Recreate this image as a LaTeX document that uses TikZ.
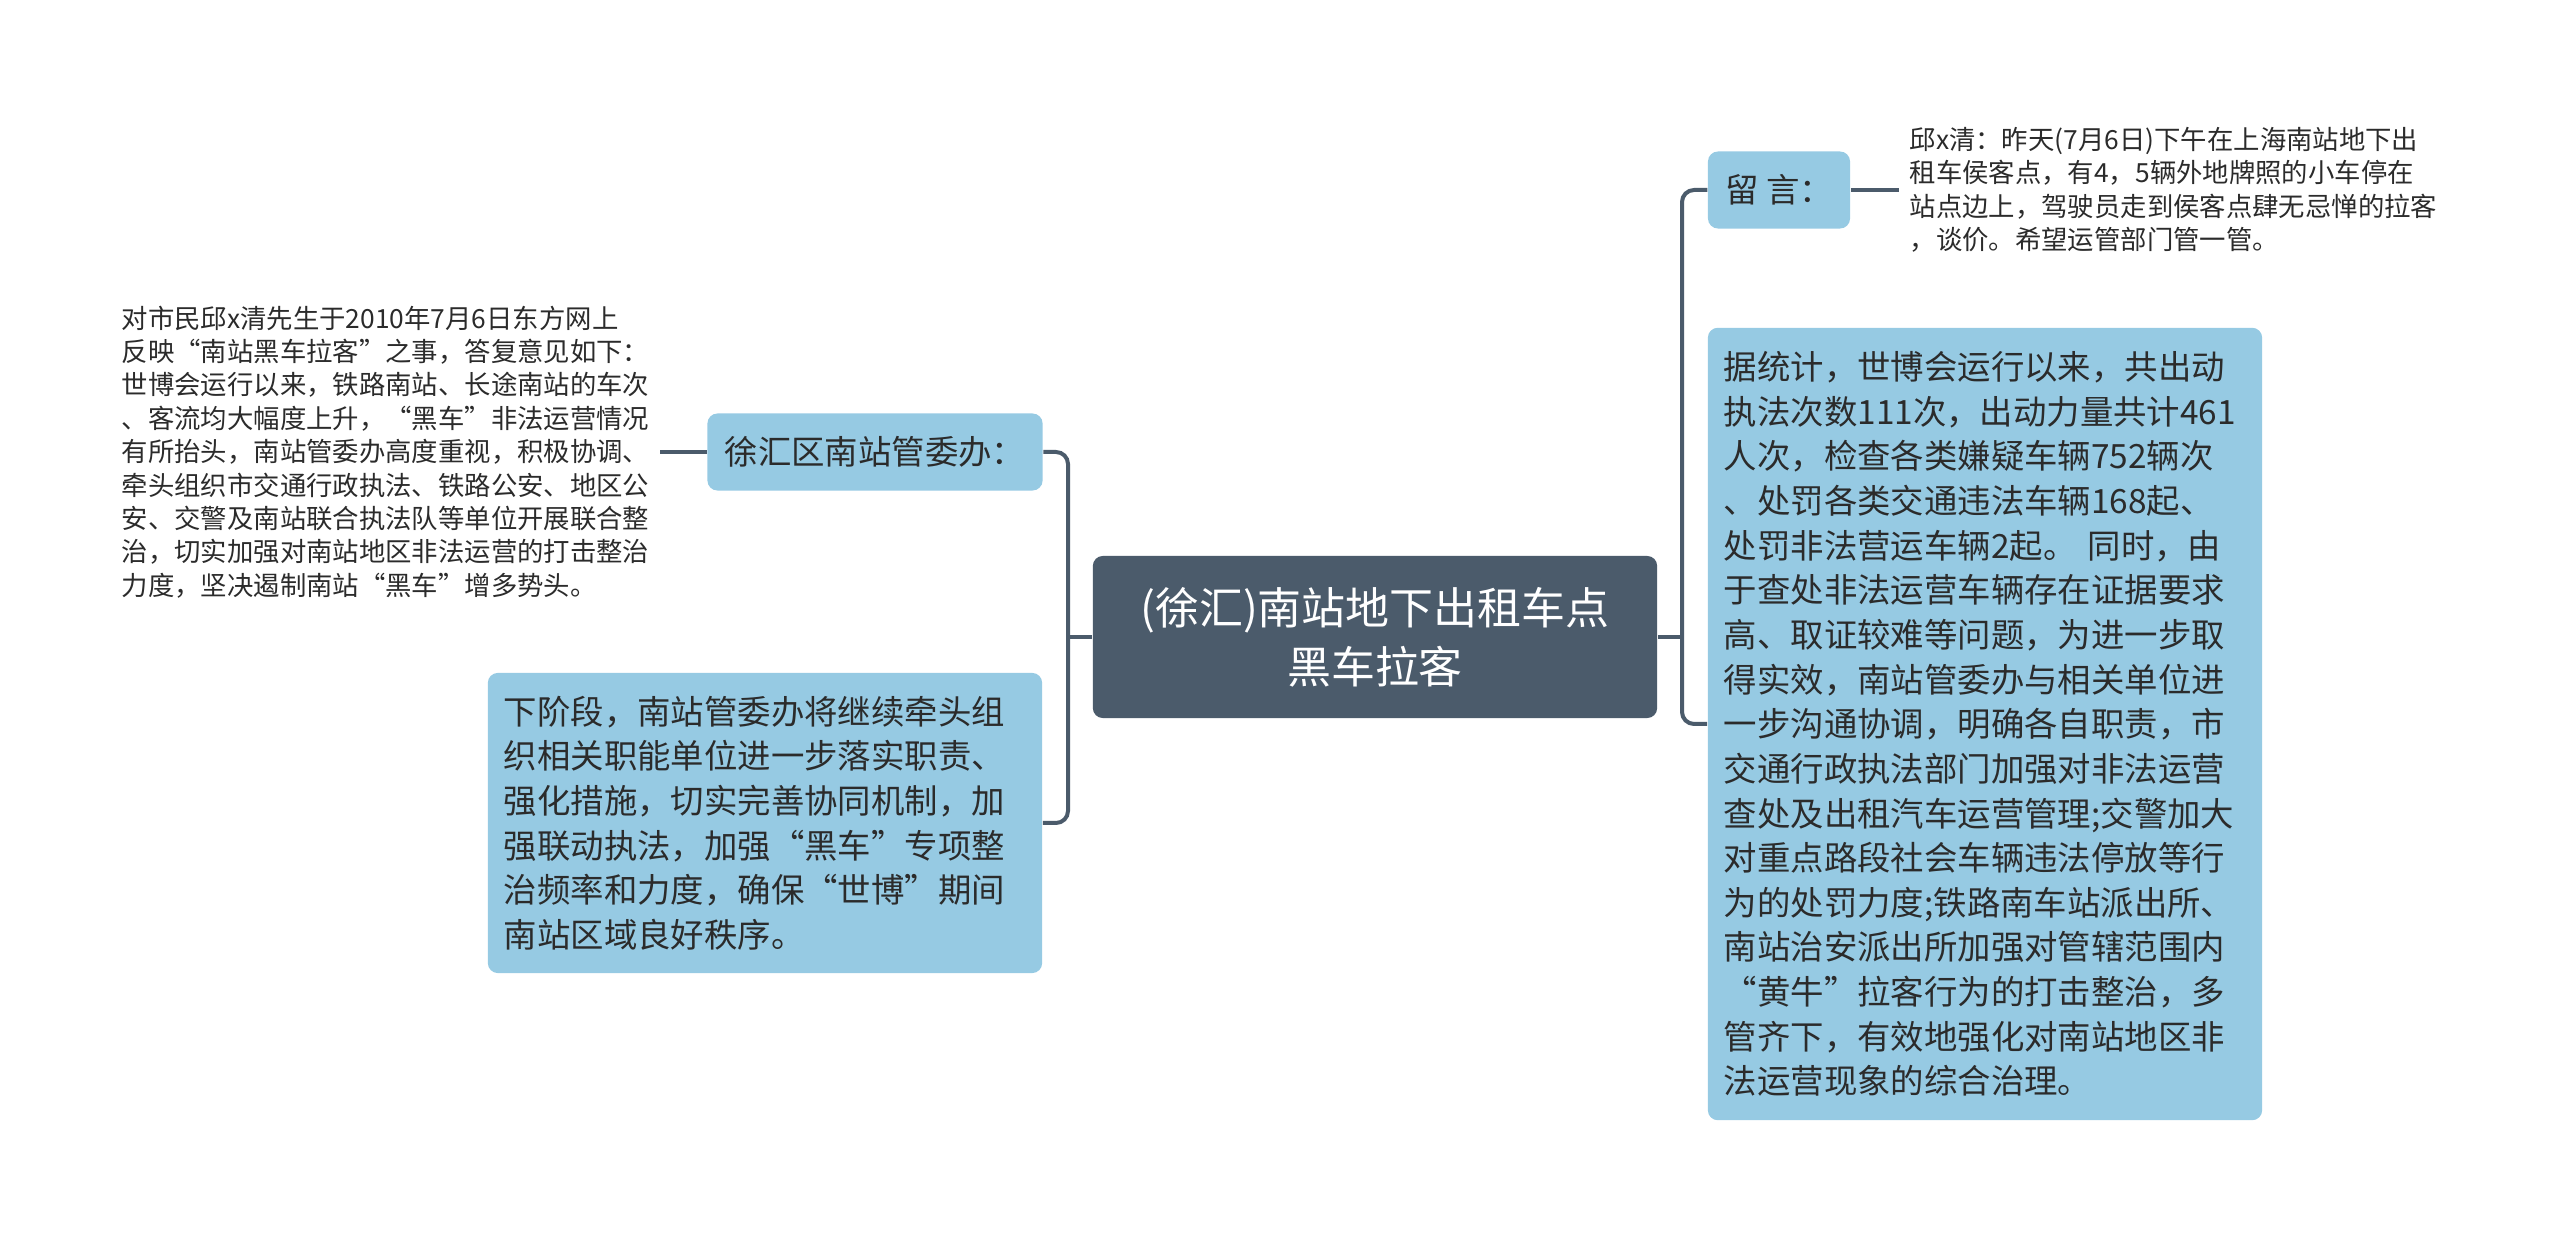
\documentclass[tikz,border=0pt]{standalone}
\usepackage{fontspec}
\setmainfont{Noto Sans CJK SC}
\usetikzlibrary{positioning}
\definecolor{slate}{HTML}{4B5B6B}
\definecolor{skyblue}{HTML}{96CAE3}
\definecolor{inkgray}{HTML}{2B2B2B}

\begin{document}
\begin{tikzpicture}[
  x=0.01cm, y=-0.01cm,
  rootbox/.style={fill=slate, text=white, rounded corners=0.1cm, minimum width=5.64cm, minimum height=1.62cm, align=center, font=\fontsize{12.5pt}{16.8pt}\selectfont},
  branchbox/.style={fill=skyblue, text=inkgray, rounded corners=0.1cm, align=left, inner sep=0pt, font=\fontsize{9.5pt}{12.7pt}\selectfont},
  textbox/.style={branchbox, inner xsep=0.16cm, text width=5.22cm, minimum width=5.54cm},
  leaftext/.style={text=inkgray, align=left, inner sep=0.1cm, font=\fontsize{7.5pt}{9.5pt}\selectfont},
  link/.style={draw=slate, line width=0.04cm, rounded corners=0.12cm}
]
\useasboundingbox (0,0) rectangle (2560,1234);

\node[rootbox] (root) at (1375,637) {(徐汇)南站地下出租车点\\黑车拉客};

\node[branchbox, minimum width=3.35cm, minimum height=0.77cm] (office) at (875,452) {徐汇区南站管委办：};
\node[textbox, minimum height=3.00cm] (plan) at (765,823) {下阶段，南站管委办将继续牵头组\\织相关职能单位进一步落实职责、\\强化措施，切实完善协同机制，加\\强联动执法，加强“黑车”专项整\\治频率和力度，确保“世博”期间\\南站区域良好秩序。};
\node[leaftext, anchor=east] (reply) at (660,452) {对市民邱x清先生于2010年7月6日东方网上\\反映“南站黑车拉客”之事，答复意见如下：\\世博会运行以来，铁路南站、长途南站的车次\\、客流均大幅度上升，“黑车”非法运营情况\\有所抬头，南站管委办高度重视，积极协调、\\牵头组织市交通行政执法、铁路公安、地区公\\安、交警及南站联合执法队等单位开展联合整\\治，切实加强对南站地区非法运营的打击整治\\力度，坚决遏制南站“黑车”增多势头。};

\node[branchbox, minimum width=1.42cm, minimum height=0.77cm] (note) at (1779,190) {留 言：};
\node[leaftext, anchor=west] (message) at (1899,190) {邱x清：昨天(7月6日)下午在上海南站地下出\\租车侯客点，有4，5辆外地牌照的小车停在\\站点边上，驾驶员走到侯客点肆无忌惮的拉客\\，谈价。希望运管部门管一管。};
\node[textbox, minimum height=7.92cm] (stats) at (1985,724) {据统计，世博会运行以来，共出动\\执法次数111次，出动力量共计461\\人次，检查各类嫌疑车辆752辆次\\、处罚各类交通违法车辆168起、\\处罚非法营运车辆2起。 同时，由\\于查处非法运营车辆存在证据要求\\高、取证较难等问题，为进一步取\\得实效，南站管委办与相关单位进\\一步沟通协调，明确各自职责，市\\交通行政执法部门加强对非法运营\\查处及出租汽车运营管理;交警加大\\对重点路段社会车辆违法停放等行\\为的处罚力度;铁路南车站派出所、\\南站治安派出所加强对管辖范围内\\“黄牛”拉客行为的打击整治，多\\管齐下，有效地强化对南站地区非\\法运营现象的综合治理。};

\coordinate (lfork) at (1068,637);
\coordinate (rfork) at (1682,637);

\draw[link] (root.west) -- (lfork);
\draw[link] (office.east) -| (lfork) |- (plan.east);
\draw[link] (root.east) -- (rfork);
\draw[link] (note.west) -| (rfork) |- (stats.west);

\draw[link] (office.west) -- (reply.east);
\draw[link] (note.east) -- (message.west);

\end{tikzpicture}
\end{document}
